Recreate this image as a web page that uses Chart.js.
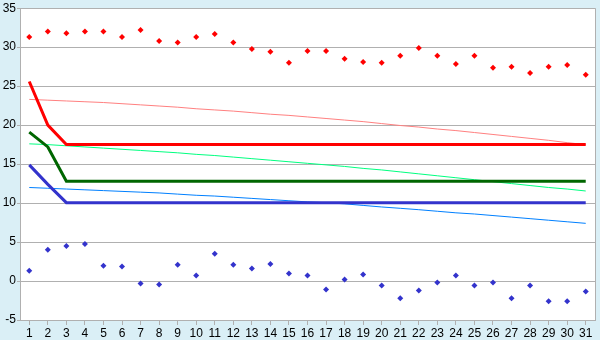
<!DOCTYPE html>
<html>
<head>
<meta charset="utf-8">
<script src="https://cdn.jsdelivr.net/npm/chart.js@4"></script>
<style>
  body { margin: 0; background: #daeff6; }
  #wrap { width: 600px; height: 340px; }
</style>
</head>
<body>
<div id="wrap"><canvas id="myChart"></canvas></div>
<script>
// categories + series values
const days = ["1","2","3","4","5","6","7","8","9","10","11","12","13","14","15","16","17","18","19","20","21","22","23","24","25","26","27","28","29","30","31"];

const redPoints = [31.3, 32.0, 31.8, 32.0, 32.0, 31.3, 32.2, 30.8, 30.6, 31.3, 31.7, 30.6, 29.75, 29.4, 28.0, 29.5, 29.5, 28.5, 28.1, 28.0, 28.9, 29.9, 28.9, 27.85, 28.9, 27.35, 27.5, 26.7, 27.5, 27.7, 26.45];
const bluePoints = [1.33, 4.0, 4.5, 4.75, 1.95, 1.85, -0.32, -0.45, 2.1, 0.7, 3.5, 2.1, 1.6, 2.2, 0.95, 0.7, -1.08, 0.2, 0.83, -0.57, -2.2, -1.2, -0.19, 0.7, -0.57, -0.19, -2.2, -0.57, -2.6, -2.6, -1.33];

const redThick = [25.6, 20.0, 17.5, 17.5, 17.5, 17.5, 17.5, 17.5, 17.5, 17.5, 17.5, 17.5, 17.5, 17.5, 17.5, 17.5, 17.5, 17.5, 17.5, 17.5, 17.5, 17.5, 17.5, 17.5, 17.5, 17.5, 17.5, 17.5, 17.5, 17.5, 17.5];
const greenThick = [19.1, 17.2, 12.8, 12.8, 12.8, 12.8, 12.8, 12.8, 12.8, 12.8, 12.8, 12.8, 12.8, 12.8, 12.8, 12.8, 12.8, 12.8, 12.8, 12.8, 12.8, 12.8, 12.8, 12.8, 12.8, 12.8, 12.8, 12.8, 12.8, 12.8, 12.8];
const blueThick = [14.9, 12.4, 10.05, 10.05, 10.05, 10.05, 10.05, 10.05, 10.05, 10.05, 10.05, 10.05, 10.05, 10.05, 10.05, 10.05, 10.05, 10.05, 10.05, 10.05, 10.05, 10.05, 10.05, 10.05, 10.05, 10.05, 10.05, 10.05, 10.05, 10.05, 10.05];

const redThin = [23.3, 23.2, 23.1, 23.0, 22.9, 22.75, 22.6, 22.45, 22.3, 22.1, 21.95, 21.8, 21.6, 21.4, 21.25, 21.05, 20.85, 20.65, 20.45, 20.2, 19.95, 19.75, 19.5, 19.3, 19.05, 18.8, 18.55, 18.3, 18.05, 17.75, 17.5];
const greenThin = [17.6, 17.5, 17.35, 17.2, 17.05, 16.9, 16.75, 16.6, 16.45, 16.25, 16.1, 15.9, 15.7, 15.5, 15.3, 15.1, 14.9, 14.7, 14.45, 14.25, 14.0, 13.75, 13.5, 13.25, 13.0, 12.75, 12.5, 12.25, 12.0, 11.8, 11.55];
const blueThin = [12.0, 11.9, 11.8, 11.7, 11.6, 11.5, 11.4, 11.3, 11.15, 11.0, 10.9, 10.75, 10.6, 10.45, 10.3, 10.15, 10.05, 9.9, 9.7, 9.5, 9.33, 9.15, 8.95, 8.75, 8.6, 8.4, 8.2, 8.0, 7.8, 7.6, 7.4];

const yTicks = [-5, 0, 5, 10, 15, 20, 25, 30, 35];

function thick(data, color) {
  return { data: data, borderColor: color, borderWidth: 3, pointRadius: 0, tension: 0, fill: false };
}
function thin(data, color) {
  return { data: data, borderColor: color, borderWidth: 1, pointRadius: 0, tension: 0, fill: false };
}
function dots(data, color) {
  return {
    data: data, showLine: false, pointStyle: "rectRot", pointRadius: 3,
    backgroundColor: color, borderColor: color, borderWidth: 0
  };
}

// white plot area on light blue, gray frame
const frame = {
  id: "frame",
  beforeDraw(chart) {
    const c = chart.ctx, a = chart.chartArea;
    c.save();
    c.fillStyle = "#daeff6";
    c.fillRect(0, 0, chart.width, chart.height);
    c.fillStyle = "#ffffff";
    c.fillRect(a.left, a.top, a.right - a.left, a.bottom - a.top);
    c.restore();
  },
  afterDraw(chart) {
    const c = chart.ctx, a = chart.chartArea;
    c.save();
    c.strokeStyle = "#b0b0b0";
    c.lineWidth = 1;
    c.beginPath();
    c.moveTo(a.right + 0.5, a.top);
    c.lineTo(a.right + 0.5, a.bottom);
    c.stroke();
    c.restore();
  }
};

const font = { family: "Liberation Sans", size: 12 };

window.myChart = new Chart(document.getElementById("myChart"), {
  type: "line",
  data: {
    labels: days,
    datasets: [
      dots(redPoints, "#ff0000"),
      dots(bluePoints, "#3333cc"),
      thick(redThick, "#ff0000"),
      thick(greenThick, "#006600"),
      thick(blueThick, "#3333cc"),
      thin(redThin, "#ff8080"),
      thin(greenThin, "#00ff80"),
      thin(blueThin, "#0080ff"),
    ],
  },
  options: {
    responsive: true,
    maintainAspectRatio: false,
    animation: false,
    devicePixelRatio: 1,
    layout: { padding: { top: 5, right: 5, left: 0, bottom: 0 } },
    plugins: { legend: { display: false }, tooltip: { enabled: false } },
    scales: {
      x: {
        offset: true,
        afterFit(scale) { scale.height = 20; },
        grid: { offset: false, drawOnChartArea: false, drawTicks: true, tickLength: 5, color: "#b0b0b0" },
        border: { color: "#b0b0b0" },
        ticks: { color: "#000000", font: font, padding: 1, maxRotation: 0, autoSkip: false },
      },
      y: {
        min: -5,
        max: 35,
        afterFit(scale) { scale.width = 20; },
        afterBuildTicks(scale) { scale.ticks = yTicks.map(v => ({ value: v })); },
        grid: { color: "#b0b0b0", tickLength: 3 },
        border: { color: "#b0b0b0" },
        ticks: { color: "#000000", font: font, padding: 1 },
      },
    },
  },
  plugins: [frame],
});
</script>
</body>
</html>
